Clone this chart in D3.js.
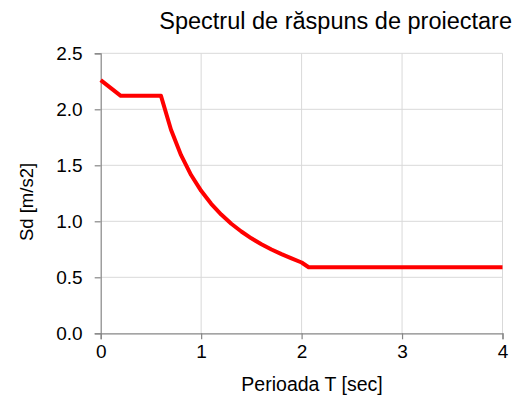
<!DOCTYPE html>
<html>
<head>
<meta charset="utf-8">
<script src="https://cdn.jsdelivr.net/npm/d3@7"></script>
<style>
  html, body { margin: 0; padding: 0; background: #fff; }
  svg { display: block; font-family: "Liberation Sans", Arial, sans-serif; }
</style>
</head>
<body>
<svg id="chart" width="514" height="396"></svg>
<script>
// Design response spectrum: period T [s] and spectral value Sd [m/s2]
const periods = [0, 0.2, 0.6, 0.7, 0.8, 0.9, 1.0, 1.1, 1.2, 1.3, 1.4, 1.5, 1.6, 1.7, 1.8, 1.9, 2.0, 2.07, 4.0];
const sdValues = [2.26, 2.12, 2.12, 1.817, 1.590, 1.413, 1.272, 1.156, 1.060, 0.978, 0.909, 0.848, 0.795, 0.748, 0.707, 0.669, 0.632, 0.59, 0.59];

const xTicks = [0, 1, 2, 3, 4];
const yTicks = [0, 0.5, 1.0, 1.5, 2.0, 2.5];

const titleText = "Spectrul de răspuns de proiectare";
const xLabel = "Perioada T [sec]";
const yLabel = "Sd [m/s2]";

const svg = d3.select("#chart");
const margin = { left: 100.7, right: 11.5, top: 53.3, bottom: 62.7 };
const W = 514, H = 396;

const x = d3.scaleLinear().domain([0, 4]).range([margin.left, W - margin.right]);
const y = d3.scaleLinear().domain([0, 2.5]).range([H - margin.bottom, margin.top]);

// gridlines
const grid = svg.append("g").attr("stroke", "#d9d9d9").attr("stroke-width", 1);
grid.selectAll("line.h").data(yTicks.filter(d => d > 0)).join("line")
  .attr("x1", x(0)).attr("x2", x(4))
  .attr("y1", d => y(d)).attr("y2", d => y(d));
grid.selectAll("line.v").data(xTicks.filter(d => d > 0)).join("line")
  .attr("y1", y(0)).attr("y2", y(2.5))
  .attr("x1", d => x(d)).attr("x2", d => x(d));

// axes
const xAxis = d3.axisBottom(x).tickValues(xTicks).tickFormat(d3.format("d")).tickSizeOuter(0).tickSize(6).tickPadding(4);
const yAxis = d3.axisLeft(y).tickValues(yTicks).tickFormat(d3.format(".1f")).tickSizeOuter(0).tickSize(6).tickPadding(12);

const gx = svg.append("g").attr("transform", `translate(0,${y(0)})`).call(xAxis);
const gy = svg.append("g").attr("transform", `translate(${x(0)},0)`).call(yAxis);

[gx, gy].forEach(g => {
  g.select(".domain").attr("stroke", "#868686").attr("stroke-width", 1.2);
  g.selectAll(".tick line").attr("stroke", "#868686").attr("stroke-width", 1.2);
  g.selectAll(".tick text").attr("fill", "#000").style("font-size", "19px")
    .style("font-family", "'Liberation Sans', Arial, sans-serif");
});
gx.selectAll(".tick text").attr("dy", "0.8em");

// spectrum curve
const line = d3.line().x((d, i) => x(periods[i])).y(d => y(d));
svg.append("path")
  .datum(sdValues)
  .attr("fill", "none")
  .attr("stroke", "#ff0000")
  .attr("stroke-width", 4)
  .attr("stroke-linejoin", "round")
  .attr("d", line);

// titles
svg.append("text")
  .attr("x", 512).attr("y", 29)
  .attr("text-anchor", "end")
  .style("font-size", "23.5px")
  .attr("fill", "#000")
  .text(titleText);

svg.append("text")
  .attr("x", 312).attr("y", 391)
  .attr("text-anchor", "middle")
  .style("font-size", "19.5px")
  .attr("fill", "#000")
  .text(xLabel);

svg.append("text")
  .attr("transform", `translate(33,202) rotate(-90)`)
  .attr("text-anchor", "middle")
  .style("font-size", "18.5px")
  .attr("fill", "#000")
  .text(yLabel);
</script>
</body>
</html>
